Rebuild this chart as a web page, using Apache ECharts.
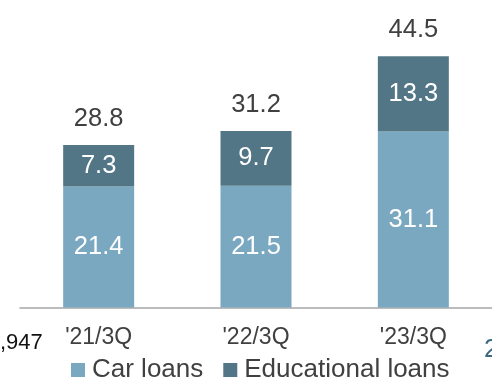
<!DOCTYPE html>
<html><head><meta charset="utf-8">
<script src="https://cdn.jsdelivr.net/npm/echarts@6/dist/echarts.min.js"></script>
<style>html,body{margin:0;padding:0;background:#fff}#c{width:492px;height:381px}</style>
</head><body><div id="c"></div>
<script>
var categories = ["'21/3Q", "'22/3Q", "'23/3Q"];
var carLoans = [21.4, 21.5, 31.1];
var eduLoans = [7.3, 9.7, 13.3];
var totals = [28.8, 31.2, 44.5];

var FONT = '"Liberation Sans", Arial, sans-serif';
var chart = echarts.init(document.getElementById('c'), null, {renderer: 'canvas'});
chart.setOption({
  animation: false,
  textStyle: {fontFamily: FONT},
  grid: {left: 20, right: -2, top: 24.5, bottom: 73.5},
  legend: {
    top: 352, left: 66, itemWidth: 14, itemHeight: 14, itemGap: 20,
    icon: 'rect',
    textStyle: {fontSize: 26, color: '#404040', fontFamily: FONT, padding: [0, 0, 0, 2]},
    data: ['Car loans', 'Educational loans']
  },
  xAxis: {
    type: 'category', data: categories,
    axisLine: {lineStyle: {color: '#a6a6a6', width: 1.5}},
    axisTick: {show: false},
    axisLabel: {fontSize: 23, color: '#404040', margin: 19, fontFamily: FONT}
  },
  yAxis: {type: 'value', min: 0, max: 50, show: false, splitLine: {show: false}},
  series: [
    {name: 'Car loans', type: 'bar', stack: 's', data: carLoans, barWidth: 71,
     itemStyle: {color: '#7aa8c0'},
     label: {show: true, position: 'inside', color: '#fff', fontSize: 25.5, fontFamily: FONT}},
    {name: 'Educational loans', type: 'bar', stack: 's', data: eduLoans, barWidth: 71,
     itemStyle: {color: '#537686'},
     label: {show: true, position: 'inside', color: '#fff', fontSize: 25.5, fontFamily: FONT}},
    {name: 'Total', type: 'bar', stack: 's', data: totals.map(function(){return 0;}), barWidth: 71,
     itemStyle: {color: 'transparent'},
     label: {show: true, position: 'top', distance: 13, color: '#404040', fontSize: 25.5, fontFamily: FONT,
       formatter: function(p){return totals[p.dataIndex].toFixed(1);}}}
  ],
  graphic: [
    {type: 'text', left: 0, top: 332, style: {text: ',947', fontSize: 22, fill: '#111', fontFamily: FONT}},
    {type: 'text', left: 484, top: 337, style: {text: '2', fontSize: 26, fill: '#3d6a80', fontFamily: FONT}}
  ]
});
</script></body></html>
